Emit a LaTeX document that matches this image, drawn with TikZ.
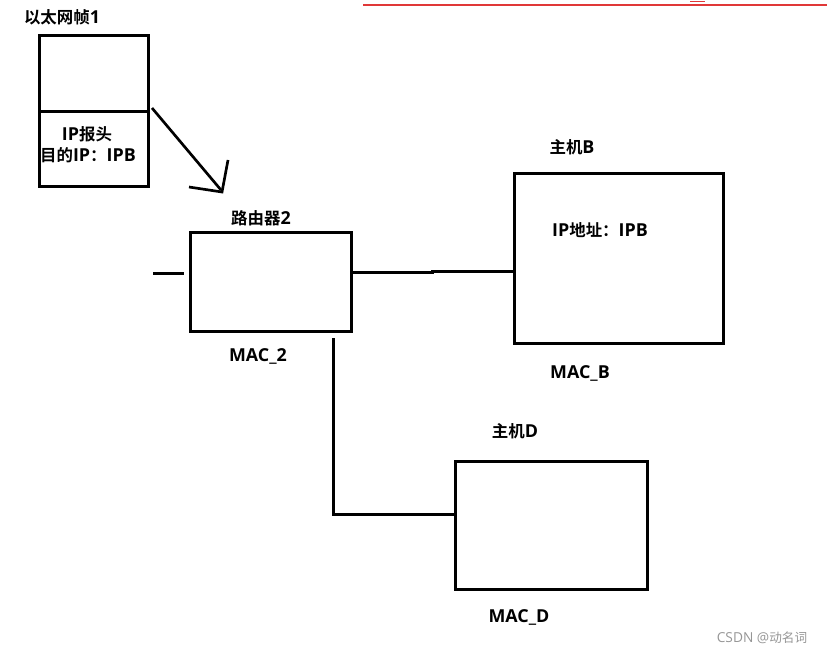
\documentclass[tikz,border=0pt]{standalone}
\usepackage{fontspec}
\setmainfont{Open Sans}
\newfontfamily\cjkfont{Noto Sans CJK SC}[BoldFont={Noto Sans CJK SC Bold},Scale=0.92]
\newcommand\cj[1]{{\cjkfont #1}}
\definecolor{topred}{RGB}{224,56,56}
\definecolor{wmgray}{RGB}{150,150,150}
\tikzset{
  box/.style={draw, line width=2.25pt, rectangle, inner sep=0pt},
  lbl/.style={font=\bfseries\fontsize{13.4pt}{15pt}\selectfont, inner sep=0pt, anchor=center},
  wire/.style={line width=2.25pt}
}
\begin{document}
\begin{tikzpicture}[x=0.75pt,y=-0.75pt]
\useasboundingbox (0,0) rectangle (827,656);
% top red line
\coordinate (t1) at (363,5); \coordinate (t2) at (827,5);
\draw[topred, line width=0.8pt] (t1) -- (t2);
\coordinate (m1) at (690,1.2); \coordinate (m2) at (705,1.2);
\draw[topred, line width=0.8pt] (m1) -- (m2);
% frame
\node[lbl] (ftitle) at (62,17) {\cj{以太网帧}1};
\node[box, minimum width=81.75pt, minimum height=57pt] (ftop) at (93.5,74) {};
\node[box, minimum width=81.75pt, minimum height=55.5pt] (fbot) at (93.5,149) {};
\node[lbl] (iph) at (87,134) {IP\cj{报头}};
\node[lbl] (dip) at (88,155) {\cj{目的}IP\cj{：}IPB};
% arrow
\coordinate (a0) at (152,108); \coordinate (a1) at (221,190);
\coordinate (h1) at (189,187); \coordinate (h2) at (222,192); \coordinate (h3) at (228,160);
\draw[line width=2pt] (a0) -- (a1);
\draw[line width=2pt] (h1) -- (h2) -- (h3);
% router
\node[lbl] (rlabel) at (261,218) {\cj{路由器}2};
\node[box, minimum width=120.75pt, minimum height=74.25pt] (router) at (270.5,281.5) {};
\node[lbl] (mac2) at (258,356) {MAC\_2};
\coordinate (s1) at (153,273); \coordinate (s2) at (184,273);
\draw[wire] (s1) -- (s2);
% host B
\node[lbl] (blabel) at (572,147) {\cj{主机}B};
\node[box, minimum width=156.75pt, minimum height=127.5pt] (hostB) at (618.5,258) {};
\node[lbl] (bip) at (600,230) {IP\cj{地址：}IPB};
\node[lbl] (macb) at (580,373) {MAC\_B};
\draw[wire] (router.east |- 0,272) -- (432,272) -- (432,271) -- (hostB.west |- 0,271);
% host D
\node[lbl] (dlabel) at (515,431) {\cj{主机}D};
\node[box, minimum width=144pt, minimum height=96pt] (hostD) at (551,525) {};
\node[lbl] (macd) at (519,617) {MAC\_D};
\coordinate (rd) at (333,338);
\draw[wire] (rd) |- ([xshift=2pt]hostD.west |- 0,514);
% watermark
\node[font=\fontsize{10.3pt}{12pt}\selectfont, text=wmgray, inner sep=0pt] (wm) at (762,638) {CSDN @\cj{动名词}};
\end{tikzpicture}
\end{document}
